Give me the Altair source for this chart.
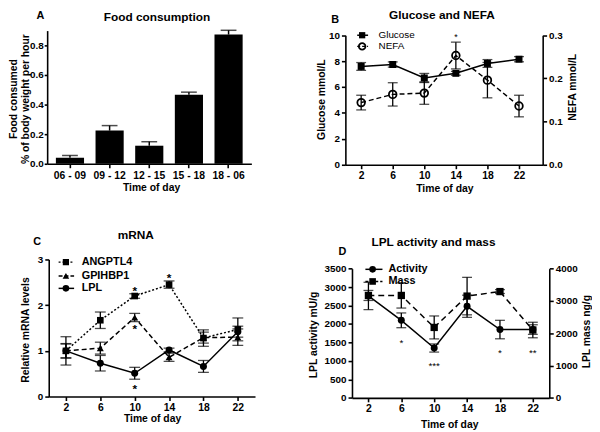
import altair as alt
import pandas as pd

FONT = "Liberation Sans"
BLACK = "#000000"

# ---------------- data ----------------
food_periods = ["06 - 09", "09 - 12", "12 - 15", "15 - 18", "18 - 06"]
food_mean = [0.040, 0.224, 0.122, 0.467, 0.873]
food_sem = [0.016, 0.034, 0.027, 0.017, 0.029]

hours = [2, 6, 10, 14, 18, 22]
hour_ticks = [2, 6, 10, 14, 18, 22]

glucose = [7.59, 7.74, 6.70, 7.06, 7.82, 8.15]
glucose_sem = [0.30, 0.20, 0.35, 0.15, 0.30, 0.20]
nefa = [0.144, 0.163, 0.166, 0.253, 0.196, 0.136]
nefa_sem = [0.017, 0.027, 0.026, 0.031, 0.041, 0.025]

angptl4 = [1.00, 1.67, 2.20, 2.45, 1.28, 1.47]
angptl4_sem = [0.16, 0.18, 0.05, 0.08, 0.18, 0.25]
gpihbp1 = [1.00, 1.06, 1.73, 0.86, 1.29, 1.30]
gpihbp1_sem = [0.15, 0.13, 0.09, 0.09, 0.12, 0.18]
lpl_mrna = [1.00, 0.73, 0.51, 1.02, 0.66, 1.42]
lpl_mrna_sem = [0.31, 0.17, 0.13, 0.04, 0.13, 0.12]

lpl_activity = [2760, 2100, 1350, 2480, 1850, 1850]
lpl_activity_sem = [370, 200, 110, 300, 250, 130]
lpl_mass = [3170, 3170, 2180, 3150, 3290, 2100]
lpl_mass_sem = [155, 390, 355, 580, 60, 240]

# significance marks (hour, glyph-centre value, text)
glucose_star_hour = [14]
glucose_star_val = [10.0]
glucose_star_txt = ["*"]
mrna_star_hour = [10, 14, 10, 10]
mrna_star_val = [2.36, 2.66, 1.53, 0.22]
mrna_star_txt = ["*", "*", "*", "*"]
lpl_star_hour = [6, 10, 18, 22]
lpl_star_val = [1540, 920, 1265, 1265]
lpl_star_txt = ["*", "***", "*", "**"]

panel_titles = ["Food consumption", "Glucose and NEFA", "mRNA", "LPL activity and mass"]
panel_letters = ["A", "B", "C", "D"]
names_b = ["Glucose", "NEFA"]
names_c = ["ANGPTL4", "GPIHBP1", "LPL"]
names_d = ["Activity", "Mass"]


# ---------------- helpers ----------------
def txt(s, x, y, size, weight="normal", align="center", baseline="alphabetic"):
    return alt.Chart(pd.DataFrame({"t": [s]})).mark_text(
        font=FONT, fontSize=size, fontWeight=weight, align=align,
        baseline=baseline, color=BLACK
    ).encode(x=alt.value(x), y=alt.value(y), text="t:N")


def point_kwargs(shape, filled, size):
    k = dict(shape=shape, filled=filled, size=size, color=BLACK, opacity=1)
    if not filled:
        k["strokeWidth"] = 1.8
    else:
        k["strokeWidth"] = 0
    return k


def legend_entry(name, x0, x1, xm, xt, y, dash, shape, filled, size, tsize, weight):
    base = alt.Chart(pd.DataFrame({"t": [name]}))
    rk = dict(color=BLACK, strokeWidth=1.5)
    if dash:
        rk["strokeDash"] = dash
    rule = base.mark_rule(**rk).encode(x=alt.value(x0), x2=alt.value(x1), y=alt.value(y))
    pt = base.mark_point(**point_kwargs(shape, filled, size)).encode(
        x=alt.value(xm), y=alt.value(y))
    lab = base.mark_text(font=FONT, fontSize=tsize, fontWeight=weight, align="left",
                         baseline="middle", color=BLACK).encode(
        x=alt.value(xt), y=alt.value(y), text="t:N")
    return [rule, pt, lab]


def series_df(vals, sems):
    return pd.DataFrame({
        "hour": hours,
        "v": vals,
        "lo": [v - s for v, s in zip(vals, sems)],
        "hi": [v + s for v, s in zip(vals, sems)],
    })


def series(df, X, yscale, yaxis, dash, shape, filled, size, cap=10):
    def Y(f):
        return alt.Y(f"{f}:Q", scale=yscale, axis=yaxis)
    base = alt.Chart(df)
    lk = dict(color=BLACK, strokeWidth=1.5)
    if dash:
        lk["strokeDash"] = dash
    line = base.mark_line(**lk).encode(x=X, y=Y("v"))
    err = base.mark_rule(color=BLACK, strokeWidth=1.3).encode(x=X, y=Y("lo"), y2="hi:Q")
    cap_lo = base.mark_tick(color=BLACK, orient="horizontal", size=cap, thickness=1.3).encode(x=X, y=Y("lo"))
    cap_hi = base.mark_tick(color=BLACK, orient="horizontal", size=cap, thickness=1.3).encode(x=X, y=Y("hi"))
    pt = base.mark_point(**point_kwargs(shape, filled, size)).encode(x=X, y=Y("v"))
    return [line, err, cap_lo, cap_hi, pt]


def stars(hrs, vals, texts, X, yscale, yaxis, size, weight, dy):
    df = pd.DataFrame({"hour": hrs, "v": vals, "t": texts})
    return alt.Chart(df).mark_text(font=FONT, fontSize=size, fontWeight=weight,
                                   baseline="middle", align="center", dy=dy, color=BLACK).encode(
        x=X, y=alt.Y("v:Q", scale=yscale, axis=yaxis), text="t:N")


def hour_x(dmax, title_x, title_y, rng=None):
    sk = dict(domain=[0, dmax], nice=False, zero=False)
    if rng:
        sk["range"] = rng
    return alt.X("hour:Q", scale=alt.Scale(**sk),
                 axis=alt.Axis(values=hour_ticks, title="Time of day", format="d",
                               titleX=title_x, titleY=title_y, titleAlign="center",
                               titleBaseline="alphabetic", labelFlush=False,
                               labelFontSize=10.5))


def y_axis(values, title, tx, ty, fmt, orient="left", offset=0):
    return alt.Axis(values=values, title=title, format=fmt, orient=orient,
                    titleAngle=270, titleX=tx, titleY=ty, titleAlign="center",
                    titleBaseline="alphabetic", labelFlush=False, offset=offset)


# ---------------- panel A ----------------
dfA = pd.DataFrame({
    "period": food_periods,
    "mean": food_mean,
    "hi": [m + s for m, s in zip(food_mean, food_sem)],
})
xA = alt.X("period:N", sort=food_periods,
           scale=alt.Scale(paddingInner=0.29, paddingOuter=0.22),
           axis=alt.Axis(title="Time of day", labelAngle=0, titleX=105.3, titleY=27,
                         titleAlign="center", titleBaseline="alphabetic",
                         labelFontSize=10.5, labelPadding=3))
yA_scale = alt.Scale(domain=[0, 0.9], nice=False)
yA_axis = alt.Axis(values=[0, 0.2, 0.4, 0.6, 0.8], format=".1f",
                   title=["Food consumed", "% of body weight per hour"],
                   titleAngle=270, titleX=-30.7, titleY=69, titleAlign="center",
                   titleBaseline="alphabetic", titleLineHeight=11.5,
                   tickSize=3, labelPadding=1)
barsA = alt.Chart(dfA).mark_bar(color=BLACK).encode(
    x=xA, y=alt.Y("mean:Q", scale=yA_scale, axis=yA_axis))
errA = alt.Chart(dfA).mark_rule(color=BLACK, strokeWidth=1.5).encode(
    x=xA, y=alt.Y("mean:Q", scale=yA_scale, axis=yA_axis), y2="hi:Q")
capA = alt.Chart(dfA).mark_tick(color=BLACK, orient="horizontal", size=16, thickness=1.5).encode(
    x=xA, y=alt.Y("hi:Q", scale=yA_scale, axis=yA_axis))
panelA = alt.layer(
    barsA, errA, capA,
    txt(panel_titles[0], 111.3, -9.7, 12, "bold"),
    txt(panel_letters[0], -6.9, -12, 11, "bold"),
).properties(width=207, height=135)

# ---------------- panel B ----------------
xB = hour_x(25, 100.3, 27)
yB_rng = [136, 4.7]
yB_scale = alt.Scale(domain=[0, 10], nice=False, range=yB_rng)
yB_axis = y_axis([0, 2, 4, 6, 8, 10], "Glucose mmol/L", -21.4, 69.5, "d")
yB2_scale = alt.Scale(domain=[0, 0.3], nice=False, range=yB_rng)
yB2_axis = y_axis([0, 0.1, 0.2, 0.3], "NEFA mmol/L", 33, 57, ".1f", orient="right")

left_B = alt.layer(
    *series(series_df(glucose, glucose_sem), xB, yB_scale, yB_axis, None, "square", True, 50),
    stars(glucose_star_hour, glucose_star_val, glucose_star_txt, xB, yB_scale, yB_axis, 9, "normal", 2),
    *legend_entry(names_b[0], 12, 23, 17, 33.6, 4.7, None, "square", True, 40, 10, "normal"),
    *legend_entry(names_b[1], 12, 23, 17, 33.6, 16, [3, 2], "circle", False, 45, 10, "normal"),
    txt(panel_titles[1], 97.8, -11.3, 12, "bold"),
    txt(panel_letters[1], -10.4, -8, 11, "bold"),
)
right_B = alt.layer(
    *series(series_df(nefa, nefa_sem), xB, yB2_scale, yB2_axis, [5, 3], "circle", False, 60),
)
panelB = alt.layer(left_B, right_B).resolve_scale(y="independent").properties(width=200, height=136)

# ---------------- panel C ----------------
xC = hour_x(24, 106.3, 25, rng=[1.6, 210.7])
yC_scale = alt.Scale(domain=[0, 3], nice=False)
yC_axis = y_axis([0, 1, 2, 3], "Relative mRNA levels", -21, 71, "d", offset=-1.6)
panelC = alt.layer(
    *series(series_df(angptl4, angptl4_sem), xC, yC_scale, yC_axis, [2, 2], "square", True, 45, 11),
    *series(series_df(gpihbp1, gpihbp1_sem), xC, yC_scale, yC_axis, [5, 3], "triangle-up", True, 50, 11),
    *series(series_df(lpl_mrna, lpl_mrna_sem), xC, yC_scale, yC_axis, None, "circle", True, 50, 11),
    stars(mrna_star_hour, mrna_star_val, mrna_star_txt, xC, yC_scale, yC_axis, 12, "bold", 2.6),
    *legend_entry(names_c[0], 11.6, 27.3, 19, 35, 2.7, [2, 2], "square", True, 40, 11, "bold"),
    *legend_entry(names_c[1], 11.6, 27.3, 19, 35, 16.7, [4, 2], "triangle-up", True, 45, 11, "bold"),
    *legend_entry(names_c[2], 11.6, 27.3, 19, 35, 29.3, None, "circle", True, 45, 11, "bold"),
    txt(panel_titles[2], 89.8, -20.7, 12, "bold"),
    txt(panel_letters[2], -10.2, -15, 11, "bold"),
).properties(width=210.7, height=139)

# ---------------- panel D ----------------
xD = hour_x(24, 105.3, 29.7, rng=[6.7, 206.7])
yD_rng = [140.3, 9.3]
yD_scale = alt.Scale(domain=[0, 3500], nice=False, range=yD_rng)
yD_axis = y_axis([0, 500, 1000, 1500, 2000, 2500, 3000, 3500], "LPL activity mU/g", -36, 76, "d", offset=-6.7)
yD2_scale = alt.Scale(domain=[0, 4000], nice=False, range=yD_rng)
yD2_axis = y_axis([0, 1000, 2000, 3000, 4000], "LPL mass ng/g", 40.6, 72.7, "d", orient="right")

left_D = alt.layer(
    *series(series_df(lpl_activity, lpl_activity_sem), xD, yD_scale, yD_axis, None, "circle", True, 50),
    stars(lpl_star_hour, lpl_star_val, lpl_star_txt, xD, yD_scale, yD_axis, 10, "normal", 2.2),
    *legend_entry(names_d[0], 20.3, 37.6, 27.6, 43.6, 10, None, "circle", True, 45, 11, "bold"),
    *legend_entry(names_d[1], 20.3, 37.6, 27.6, 43.6, 22.3, [3, 2], "square", True, 45, 11, "bold"),
    txt(panel_titles[3], 89.3, -13.7, 12, "bold"),
    txt(panel_letters[3], -3, -5, 11, "bold"),
)
right_D = alt.layer(
    *series(series_df(lpl_mass, lpl_mass_sem), xD, yD2_scale, yD2_axis, [6, 4], "square", True, 55),
)
panelD = alt.layer(left_D, right_D).resolve_scale(y="independent").properties(width=206.7, height=140.3)

# ---------------- layout ----------------
chart = alt.ConcatChart(
    concat=[panelA, panelB, panelC, panelD],
    columns=2,
    spacing={"row": 96, "column": 91.3},
    bounds="flush",
).properties(
    padding={"left": 39.7, "top": 20, "right": 552.3, "bottom": 404},
    autosize=alt.AutoSizeParams(type="none"),
    background="white",
).configure_view(
    strokeWidth=0
).configure_axis(
    grid=False,
    domainColor=BLACK, domainWidth=1.6,
    tickColor=BLACK, tickWidth=1.6, tickSize=4,
    labelFont=FONT, labelFontSize=10, labelFontWeight="bold", labelColor=BLACK,
    labelPadding=2,
    titleFont=FONT, titleFontSize=10.5, titleFontWeight="bold", titleColor=BLACK,
)

chart.save("out.html", embed_options={"renderer": "svg", "actions": False})
